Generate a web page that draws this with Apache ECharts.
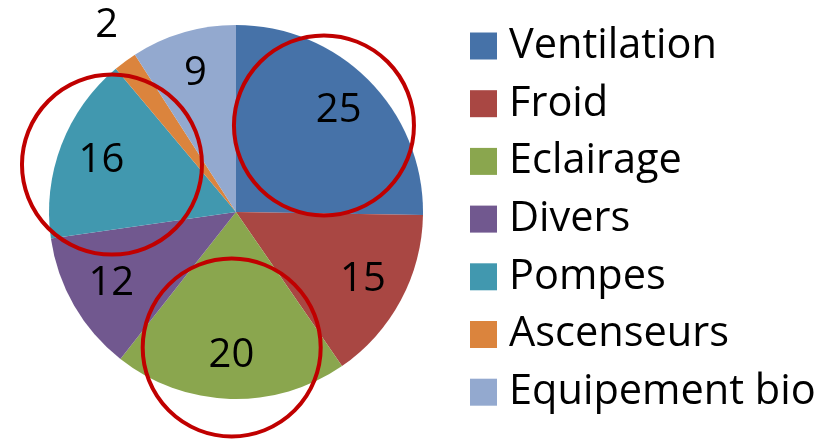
<!DOCTYPE html>
<html><head><meta charset="utf-8">
<script src="https://cdn.jsdelivr.net/npm/echarts@6/dist/echarts.min.js"></script>
<style>html,body{margin:0;padding:0;background:#fff}#c{width:831px;height:442px}</style>
</head><body><div id="c"></div>
<script>
const categories = ['Ventilation','Froid','Eclairage','Divers','Pompes','Ascenseurs','Equipement bio'];
const values = [25, 15, 20, 12, 16, 2, 9];
const colors = ['#4672A8','#A94743','#8AA64E','#71588F','#4198AF','#DB843D','#93A9CF'];
const highlighted = ['Ventilation','Eclairage','Pompes'];

const FONT = '"Open Sans"';
const cx = 236, cy = 212, R = 187;

const pieData = categories.map((n,i)=>({name:n, value:values[i], itemStyle:{color:colors[i]}}));
const labelData = categories.map((n,i)=>{
  const d = {name:n, value:values[i], itemStyle:{color:'rgba(0,0,0,0)'}};
  if (values[i] < 5) d.label = {offset:[-44,-70]};
  return d;
});

const chart = echarts.init(document.getElementById('c'));

const total = values.reduce((a,b)=>a+b,0);
const circles = [];
const circleSpec = {Ventilation:{rf:0.66, r:90}, Eclairage:{rf:0.725, r:89}, Pompes:{rf:0.71, r:90}};
let acc = 0;
categories.forEach((n,i)=>{
  const mid = (acc + values[i]/2)/total*2*Math.PI;
  acc += values[i];
  if (highlighted.includes(n)) {
    const s = circleSpec[n];
    const d = s.rf*R;
    circles.push({type:'circle', z:100, silent:true,
      shape:{cx: cx + d*Math.sin(mid), cy: cy - d*Math.cos(mid), r: s.r},
      style:{fill:'none', stroke:'#C00000', lineWidth:4}});
  }
});

chart.setOption({
  animation:false,
  backgroundColor:'#fff',
  legend:{
    orient:'vertical', left:470, top:25, height:430, padding:0,
    itemWidth:27, itemHeight:27, itemGap:15.7,
    icon:'rect',
    data: categories.map((n,i)=>({name:n, itemStyle:{color:colors[i]}})),
    textStyle:{fontFamily:FONT, fontSize:41.5, color:'#000', padding:[0,0,0,7]}
  },
  series:[
    {type:'pie', center:[cx,cy], radius:[0,R], startAngle:90, clockwise:true,
     avoidLabelOverlap:false, silent:true,
     label:{show:false}, labelLine:{show:false},
     itemStyle:{borderWidth:0},
     data: pieData},
    {type:'pie', center:[cx,cy], radius:[95,R], startAngle:90, clockwise:true,
     avoidLabelOverlap:false, silent:true, z:5,
     label:{show:true, position:'inside', fontFamily:FONT, fontSize:40, color:'#000', formatter:'{c}'},
     labelLine:{show:false},
     itemStyle:{borderWidth:0},
     data: labelData}
  ],
  graphic: circles
});
</script></body></html>
